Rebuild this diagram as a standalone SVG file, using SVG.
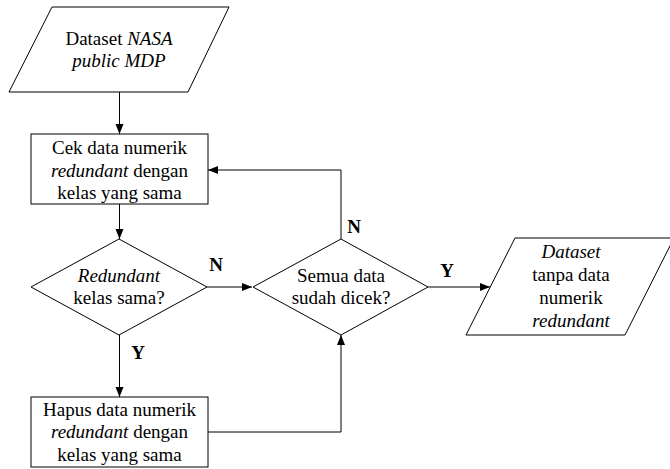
<svg xmlns="http://www.w3.org/2000/svg" width="670" height="469" viewBox="0 0 670 469">
  <style>
    .shape { fill: #ffffff; stroke: #000000; stroke-width: 1; }
    .edge { fill: none; stroke: #000000; stroke-width: 1; marker-end: url(#arrow); }
    .t { font-family: "Liberation Serif", "Times New Roman", serif; font-size: 19px; fill: #000000; text-anchor: middle; }
    .i { font-style: italic; }
    .lbl { font-family: "Liberation Serif", "Times New Roman", serif; font-size: 19px; font-weight: bold; fill: #000000; text-anchor: middle; }
  </style>
  <defs>
    <marker id="arrow" viewBox="0 0 10 10" refX="10" refY="5" markerWidth="10" markerHeight="10" markerUnits="userSpaceOnUse" orient="auto">
      <path d="M0,1 L10,5 L0,9 Z" fill="#000000"/>
    </marker>
  </defs>
  <rect width="670" height="469" fill="#ffffff"/>

  <!-- connectors -->
  <g id="connectors">
    <path class="edge" d="M119.5,92 V134"/>
    <path class="edge" d="M119.5,204 V239"/>
    <path class="edge" d="M207,287 H252"/>
    <path class="edge" d="M119.5,335 V397"/>
    <path class="edge" d="M208,432 H341 V335"/>
    <path class="edge" d="M341,239 V170 H208"/>
    <path class="edge" d="M428,287 H490"/>
    <text class="lbl" x="216" y="271">N</text>
    <text class="lbl" x="354" y="233">N</text>
    <text class="lbl" x="138" y="359">Y</text>
    <text class="lbl" x="447" y="277">Y</text>
  </g>

  <g id="input">
    <polygon class="shape" points="52,7 229,7 188,92 9,92"/>
    <text class="t" x="119" y="45">Dataset <tspan class="i">NASA</tspan></text>
    <text class="t i" x="119" y="67">public MDP</text>
  </g>

  <g id="check">
    <rect class="shape" x="31" y="134" width="177" height="70"/>
    <text class="t" x="119.5" y="154">Cek data numerik</text>
    <text class="t" x="119.5" y="177"><tspan class="i">redundant</tspan> dengan</text>
    <text class="t" x="119.5" y="199">kelas yang sama</text>
  </g>

  <g id="decision-redundant">
    <polygon class="shape" points="119,239 207,287 119,335 31,287"/>
    <text class="t i" x="119" y="282">Redundant</text>
    <text class="t" x="119" y="304">kelas sama?</text>
  </g>

  <g id="decision-done">
    <polygon class="shape" points="341,239 428,287 341,335 253,287"/>
    <text class="t" x="341" y="282">Semua data</text>
    <text class="t" x="341" y="304">sudah dicek?</text>
  </g>

  <g id="delete">
    <rect class="shape" x="31" y="397" width="177" height="70"/>
    <text class="t" x="119.5" y="416">Hapus data numerik</text>
    <text class="t" x="119.5" y="438"><tspan class="i">redundant</tspan> dengan</text>
    <text class="t" x="119.5" y="461">kelas yang sama</text>
  </g>

  <g id="output">
    <polygon class="shape" points="515,238 674,238 625,335 466,335"/>
    <text class="t i" x="571" y="258">Dataset</text>
    <text class="t" x="571" y="281">tanpa data</text>
    <text class="t" x="571" y="304">numerik</text>
    <text class="t i" x="571" y="327">redundant</text>
  </g>
</svg>
